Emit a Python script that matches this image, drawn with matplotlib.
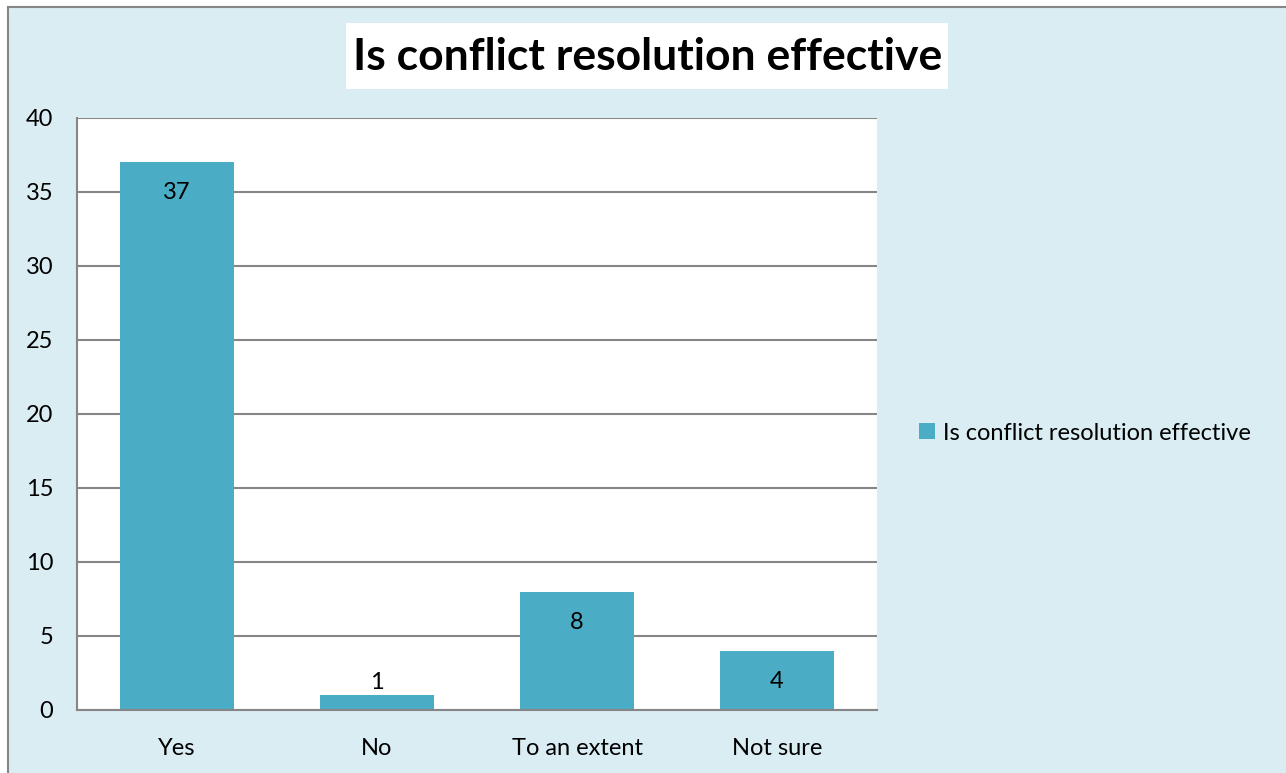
import numpy as np
import matplotlib
matplotlib.use("Agg")
import matplotlib.pyplot as plt
from matplotlib.patches import Rectangle

categories = ["Yes", "No", "To an extent", "Not sure"]
counts = [37, 1, 8, 4]
title = "Is conflict resolution effective"
series_name = "Is conflict resolution effective"

bar_color = "#4BACC6"
bg_color = "#DAEDF3"
grid_color = "#868686"

plt.rcParams['font.family'] = ['Lato', 'DejaVu Sans']

W, H = 1286, 773
fig = plt.figure(figsize=(W / 100, H / 100), dpi=100)
fig.patch.set_facecolor("white")

# chart area background with gray frame (cut off at right/bottom)
fig.patches.append(Rectangle((8 / W, -0.01), 1.0, (766 / H) + 0.01,
                             transform=fig.transFigure, facecolor=bg_color,
                             edgecolor=grid_color, linewidth=1.5, zorder=-2))

# title in white box
fig.patches.append(Rectangle((346 / W, 1 - 89 / H), (948 - 346) / W, 66 / H,
                             transform=fig.transFigure, facecolor="white",
                             edgecolor="none", zorder=-1))
fig.text(648 / W, 1 - 57 / H, title, ha="center", va="center",
         fontsize=32, fontweight="bold", color="black", zorder=2)

#------------------Bars----------------------
ax = fig.add_axes([77 / W, (H - 710) / H, 800 / W, 592 / H])
ax.set_facecolor("white")
x = np.arange(len(categories))
bars = ax.bar(x, counts, width=0.57, color=bar_color, zorder=3,
              label=series_name)

ax.set_xlim(-0.5, len(categories) - 0.5)
ax.set_ylim(0, 40)
ax.set_yticks(np.arange(0, 41, 5))
ax.set_xticks(x)
ax.set_xticklabels(categories)
ax.yaxis.grid(True, color=grid_color, linewidth=1.5, zorder=1)
ax.set_axisbelow(True)
ax.tick_params(axis="both", length=0, labelsize=17, colors="black")
ax.tick_params(axis="y", pad=17)
ax.tick_params(axis="x", pad=20)
for s in ["top", "right"]:
    ax.spines[s].set_visible(False)
for s in ["left", "bottom"]:
    ax.spines[s].set_color(grid_color)
    ax.spines[s].set_linewidth(1.5)
    ax.spines[s].set_zorder(4)

# data labels: inside end, or above when the bar is too short
for b, v in zip(bars, counts):
    cx = b.get_x() + b.get_width() / 2
    if v >= 3:
        ax.annotate(str(v), (cx, v), xytext=(0, -22), textcoords="offset points",
                    ha="center", va="center", fontsize=17, zorder=5)
    else:
        ax.annotate(str(v), (cx, v), xytext=(0, 9), textcoords="offset points",
                    ha="center", va="center", fontsize=17, zorder=5)

leg = fig.legend(loc="center left", bbox_to_anchor=(898 / W, 1 - 433 / H),
                 frameon=False, fontsize=17, handlelength=0.65,
                 handleheight=0.65, handletextpad=0.35)

plt.savefig("out.png", dpi=100, facecolor=fig.get_facecolor())
